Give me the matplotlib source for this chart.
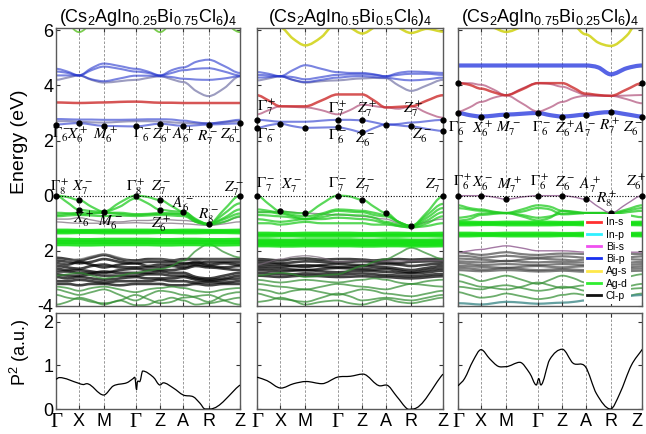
import numpy as np
import matplotlib.pyplot as plt
from matplotlib.path import Path
from matplotlib.patches import PathPatch
from matplotlib.lines import Line2D

plt.rcParams['font.family'] = ['Liberation Sans', 'DejaVu Sans']
plt.rcParams['mathtext.fontset'] = 'stix'

# ── k-path ────────────────────────────────────────────────────────────────────
KPOS = [0.0, 0.125, 0.26, 0.433, 0.566, 0.692, 0.829, 1.0]
KLABELS = ['Γ', 'X', 'M', 'Γ', 'Z', 'A', 'R', 'Z']
TITLES = [r'(Cs$\mathregular{_{2}}$AgIn$\mathregular{_{0.25}}$Bi$\mathregular{_{0.75}}$Cl$\mathregular{_{6}}$)$\mathregular{_{4}}$',
          r'(Cs$\mathregular{_{2}}$AgIn$\mathregular{_{0.5}}$Bi$\mathregular{_{0.5}}$Cl$\mathregular{_{6}}$)$\mathregular{_{4}}$',
          r'(Cs$\mathregular{_{2}}$AgIn$\mathregular{_{0.75}}$Bi$\mathregular{_{0.25}}$Cl$\mathregular{_{6}}$)$\mathregular{_{4}}$']

# band energies (eV) sampled at Γ, ½, X, ½, M, ½, Γ, ½, Z, ½, A, ½, R, ½, Z

# ── x = 0.25 ──
P1_AGS = [[6.60, 6.25, 5.93, 6.25, 6.60, 6.80, 6.80, 6.30, 5.93, 6.30, 6.70, 6.80, 6.70, 6.30, 5.93]]
P1_BIP = [
    [4.60, 4.50, 4.36, 4.62, 4.79, 4.70, 4.60, 4.50, 4.36, 4.55, 4.65, 4.85, 4.93, 4.70, 4.45],
    [4.50, 4.45, 4.36, 4.55, 4.68, 4.60, 4.50, 4.45, 4.36, 4.45, 4.55, 4.60, 4.62, 4.50, 4.36],
    [4.36, 4.36, 4.36, 4.22, 4.15, 4.25, 4.35, 4.35, 4.33, 4.30, 4.24, 4.21, 4.20, 4.25, 4.33],
    [2.78, 2.77, 2.76, 2.76, 2.75, 2.75, 2.76, 2.77, 2.77, 2.76, 2.72, 2.66, 2.62, 2.68, 2.75],
    [2.58, 2.61, 2.63, 2.58, 2.53, 2.52, 2.51, 2.56, 2.61, 2.57, 2.53, 2.55, 2.58, 2.60, 2.62],
]
P1_BIPX = [
    [4.20, 4.28, 4.36, 4.20, 4.10, 4.15, 4.20, 4.27, 4.33, 4.22, 4.12, 3.80, 3.61, 3.90, 4.33],
    [2.70, 2.70, 2.68, 2.66, 2.65, 2.68, 2.70, 2.70, 2.69, 2.66, 2.64, 2.62, 2.62, 2.66, 2.70],
]
P1_INS = [[3.38, 3.37, 3.36, 3.37, 3.38, 3.40, 3.41, 3.39, 3.37, 3.37, 3.36, 3.36, 3.36, 3.36, 3.36]]
P1_AGD = [
    [0.00, -0.05, -0.16, -0.40, -0.58, -0.25, 0.00, -0.05, -0.16, -0.38, -0.58, -0.88, -1.03, -0.50, 0.00],
    [0.00, -0.25, -0.51, -0.56, -0.58, -0.40, -0.10, -0.28, -0.51, -0.56, -0.58, -0.85, -1.03, -0.65, -0.28],
    [-0.70, -0.66, -0.62, -0.62, -0.62, -0.62, -0.67, -0.66, -0.63, -0.64, -0.65, -0.90, -1.03, -0.80, -0.50],
    [-0.62, -0.64, -0.68, -0.66, -0.62, -0.66, -0.70, -0.68, -0.66, -0.66, -0.68, -0.95, -1.03, -0.85, -0.65],
    [-0.75, -0.72, -0.70, -0.72, -0.74, -0.72, -0.74, -0.72, -0.70, -0.72, -0.74, -0.95, -1.05, -0.95, -0.75],
]
P1_AGDX = [
    [-0.85, -0.85, -0.80, -0.88, -0.95, -0.95, -0.90, -0.90, -0.85, -0.88, -0.90, -0.95, -1.05, -0.95, -0.78],
    [-0.95, -0.98, -1.00, -1.00, -1.00, -1.00, -0.98, -1.00, -1.00, -1.00, -1.02, -1.05, -1.08, -1.02, -0.95],
]
P1_FLAT = [
    [-1.27, -1.27, -1.28, -1.28, -1.27, -1.27, -1.27, -1.27, -1.28, -1.28, -1.27, -1.27, -1.28, -1.28, -1.27],
    [-1.33, -1.33, -1.32, -1.32, -1.33, -1.33, -1.33, -1.33, -1.32, -1.32, -1.33, -1.33, -1.32, -1.32, -1.33],
    [-1.60, -1.60, -1.61, -1.61, -1.60, -1.60, -1.60, -1.60, -1.61, -1.61, -1.60, -1.60, -1.61, -1.61, -1.60],
    [-1.68, -1.68, -1.67, -1.67, -1.68, -1.68, -1.68, -1.68, -1.67, -1.67, -1.68, -1.68, -1.67, -1.67, -1.68],
    [-1.76, -1.76, -1.77, -1.77, -1.76, -1.76, -1.76, -1.76, -1.77, -1.77, -1.76, -1.76, -1.77, -1.77, -1.76],
]
P1_CLP = [
    [-2.25, -2.30, -2.35, -2.25, -2.15, -2.30, -2.35, -2.30, -2.30, -2.35, -2.30, -2.30, -2.30, -2.30, -2.30],
    [-2.35, -2.40, -2.45, -2.40, -2.30, -2.40, -2.45, -2.40, -2.40, -2.40, -2.45, -2.45, -2.40, -2.40, -2.40],
    [-2.45, -2.50, -2.40, -2.50, -2.60, -2.50, -2.45, -2.55, -2.50, -2.50, -2.50, -2.40, -2.50, -2.45, -2.50],
    [-2.55, -2.60, -2.65, -2.55, -2.50, -2.60, -2.60, -2.60, -2.60, -2.55, -2.60, -2.50, -2.55, -2.60, -2.55],
    [-2.65, -2.70, -2.70, -2.75, -2.80, -2.70, -2.65, -2.70, -2.70, -2.70, -2.65, -2.55, -2.60, -2.65, -2.70],
    [-2.75, -2.75, -2.80, -2.80, -2.75, -2.80, -2.80, -2.80, -2.75, -2.80, -2.80, -2.95, -3.00, -2.90, -2.80],
    [-2.85, -2.90, -2.90, -2.85, -2.90, -2.90, -2.90, -2.85, -2.85, -2.90, -2.90, -3.00, -3.05, -3.00, -2.90],
    [-2.95, -3.00, -2.95, -3.00, -3.05, -3.00, -2.95, -3.00, -3.00, -3.00, -2.95, -3.05, -3.10, -3.05, -3.00],
    [-3.10, -3.10, -3.05, -3.10, -3.15, -3.10, -3.10, -3.10, -3.05, -3.10, -3.10, -3.15, -3.15, -3.15, -3.10],
    [-3.20, -3.20, -3.25, -3.20, -3.20, -3.25, -3.20, -3.20, -3.20, -3.25, -3.25, -3.20, -3.25, -3.20, -3.20],
]
P1_CLPX = [[-2.50, -2.40, -2.30, -2.20, -2.12, -2.25, -2.40, -2.35, -2.30, -2.32, -2.35, -2.35, -2.30, -2.30, -2.35]]
P1_AGDLOW = [
    [-2.90, -2.85, -2.80, -2.90, -3.00, -2.90, -2.80, -2.72, -2.66, -2.55, -2.36, -2.00, -1.76, -2.05, -2.24],
    [-3.30, -3.35, -3.45, -3.35, -3.30, -3.40, -3.50, -3.40, -3.35, -3.30, -3.35, -3.45, -3.50, -3.40, -3.35],
    [-3.40, -3.50, -3.60, -3.50, -3.40, -3.60, -3.80, -3.60, -3.45, -3.50, -3.60, -3.70, -3.85, -3.60, -3.50],
    [-3.60, -3.70, -3.75, -3.85, -3.90, -3.80, -3.60, -3.75, -3.90, -3.85, -3.70, -3.65, -3.60, -3.80, -3.95],
    [-3.95, -3.85, -3.70, -3.80, -3.95, -3.80, -3.97, -3.95, -3.80, -3.70, -3.80, -3.95, -3.90, -3.80, -3.70],
]

# ── x = 0.5 ──
P2_AGS = [[6.60, 6.40, 6.10, 5.70, 5.45, 5.75, 6.30, 6.10, 5.88, 6.10, 6.40, 6.10, 5.90, 6.05, 5.95]]
P2_BIP = [
    [4.48, 4.42, 4.33, 4.55, 4.73, 4.60, 4.48, 4.45, 4.45, 4.40, 4.33, 4.45, 4.50, 4.48, 4.45],
    [4.38, 4.36, 4.33, 4.30, 4.22, 4.30, 4.38, 4.40, 4.40, 4.38, 4.33, 4.38, 4.42, 4.42, 4.38],
    [4.28, 4.30, 4.33, 4.20, 4.12, 4.20, 4.28, 4.32, 4.33, 4.30, 4.28, 4.22, 4.18, 4.22, 4.28],
    [2.75, 2.72, 2.68, 2.68, 2.68, 2.72, 2.75, 2.75, 2.73, 2.66, 2.58, 2.60, 2.65, 2.70, 2.75],
    [2.46, 2.55, 2.61, 2.52, 2.46, 2.47, 2.48, 2.40, 2.30, 2.45, 2.58, 2.55, 2.51, 2.42, 2.35],
]
P2_BIPX = [[4.18, 4.25, 4.33, 4.20, 4.10, 4.15, 4.18, 4.22, 4.25, 4.27, 4.26, 4.00, 3.80, 4.00, 4.20]]
P2_INS = [[3.64, 3.45, 3.24, 3.24, 3.24, 3.45, 3.67, 3.67, 3.67, 3.45, 3.20, 3.22, 3.24, 3.45, 3.64]]
P2_INSX = [[2.95, 3.10, 3.24, 3.22, 3.20, 3.10, 2.95, 3.10, 3.30, 3.25, 3.20, 3.15, 3.24, 3.00, 2.83]]
P2_AGD = [
    [0.00, -0.30, -0.57, -0.62, -0.64, -0.30, 0.00, -0.03, -0.15, -0.40, -0.62, -0.95, -1.10, -0.60, -0.03],
    [-0.60, -0.60, -0.65, -0.75, -0.85, -0.70, -0.55, -0.58, -0.60, -0.70, -0.75, -0.95, -1.10, -0.80, -0.45],
    [-0.70, -0.72, -0.75, -0.80, -0.85, -0.78, -0.68, -0.70, -0.72, -0.80, -0.95, -1.05, -1.10, -0.90, -0.60],
    [-0.85, -0.90, -0.95, -0.90, -0.85, -0.85, -0.80, -0.82, -0.85, -0.90, -1.00, -1.10, -1.15, -1.00, -0.75],
    [-1.00, -1.00, -1.05, -1.00, -0.95, -1.00, -1.00, -1.00, -1.00, -1.05, -1.05, -1.10, -1.15, -1.10, -1.00],
    [-0.50, -0.55, -0.62, -0.70, -0.75, -0.65, -0.50, -0.52, -0.55, -0.62, -0.70, -0.95, -1.10, -0.70, -0.30],
]
P2_AGDX = [[-0.60, -0.59, -0.57, -0.60, -0.64, -0.66, -0.70, -0.72, -0.75, -0.80, -0.85, -1.00, -1.10, -0.95, -0.85]]
P2_FLAT = [
    [-1.38, -1.38, -1.39, -1.39, -1.38, -1.38, -1.38, -1.38, -1.39, -1.39, -1.38, -1.38, -1.39, -1.39, -1.38],
    [-1.45, -1.45, -1.44, -1.44, -1.45, -1.45, -1.45, -1.45, -1.44, -1.44, -1.45, -1.45, -1.44, -1.44, -1.45],
    [-1.62, -1.62, -1.63, -1.63, -1.62, -1.62, -1.62, -1.62, -1.63, -1.63, -1.62, -1.62, -1.63, -1.63, -1.62],
    [-1.68, -1.68, -1.67, -1.67, -1.68, -1.68, -1.68, -1.68, -1.67, -1.67, -1.68, -1.68, -1.67, -1.67, -1.68],
    [-1.74, -1.74, -1.75, -1.75, -1.74, -1.74, -1.74, -1.74, -1.75, -1.75, -1.74, -1.74, -1.75, -1.75, -1.74],
    [-1.80, -1.80, -1.81, -1.81, -1.80, -1.80, -1.80, -1.80, -1.81, -1.81, -1.80, -1.80, -1.81, -1.81, -1.80],
]
P2_CLP = [
    [-2.30, -2.32, -2.35, -2.30, -2.28, -2.32, -2.30, -2.30, -2.32, -2.35, -2.32, -2.30, -2.32, -2.30, -2.30],
    [-2.38, -2.40, -2.45, -2.42, -2.38, -2.40, -2.42, -2.40, -2.38, -2.40, -2.42, -2.45, -2.40, -2.38, -2.38],
    [-2.46, -2.48, -2.50, -2.55, -2.58, -2.52, -2.48, -2.50, -2.52, -2.50, -2.48, -2.50, -2.55, -2.50, -2.46],
    [-2.55, -2.56, -2.58, -2.55, -2.52, -2.56, -2.60, -2.58, -2.56, -2.58, -2.60, -2.65, -2.70, -2.62, -2.55],
    [-2.62, -2.64, -2.66, -2.68, -2.70, -2.66, -2.62, -2.64, -2.66, -2.68, -2.66, -2.72, -2.78, -2.70, -2.64],
    [-2.70, -2.72, -2.75, -2.72, -2.70, -2.74, -2.78, -2.75, -2.72, -2.74, -2.76, -2.80, -2.82, -2.78, -2.72],
    [-2.80, -2.82, -2.85, -2.85, -2.82, -2.84, -2.86, -2.84, -2.82, -2.85, -2.88, -2.90, -2.92, -2.88, -2.84],
    [-2.90, -2.92, -2.95, -2.92, -2.90, -2.92, -2.95, -2.94, -2.92, -2.94, -2.95, -2.98, -3.00, -2.96, -2.92],
]
P2_CLPX = [[-2.50, -2.40, -2.30, -2.22, -2.18, -2.25, -2.40, -2.38, -2.35, -2.35, -2.38, -2.38, -2.36, -2.35, -2.35]]
P2_AGDLOW = [
    [-2.90, -2.85, -2.80, -2.85, -2.95, -2.90, -2.85, -2.70, -2.55, -2.40, -2.30, -2.10, -1.89, -2.10, -2.30],
    [-3.05, -3.10, -3.15, -3.10, -3.05, -3.10, -3.15, -3.10, -3.05, -3.00, -3.05, -3.15, -3.20, -3.10, -3.05],
    [-3.20, -3.25, -3.30, -3.35, -3.40, -3.30, -3.20, -3.25, -3.30, -3.35, -3.40, -3.30, -3.20, -3.25, -3.30],
    [-3.40, -3.45, -3.55, -3.45, -3.40, -3.50, -3.60, -3.50, -3.40, -3.45, -3.55, -3.60, -3.65, -3.55, -3.45],
    [-3.55, -3.65, -3.75, -3.80, -3.85, -3.70, -3.55, -3.65, -3.80, -3.75, -3.70, -3.75, -3.80, -3.70, -3.60],
    [-3.85, -3.80, -3.70, -3.80, -3.95, -3.85, -3.80, -3.90, -3.95, -3.85, -3.75, -3.85, -3.90, -3.80, -3.70],
]

# ── x = 0.75 ──
P3_AGS = [[6.60, 6.40, 6.30, 6.10, 5.94, 6.15, 6.60, 6.50, 6.40, 6.20, 5.85, 5.55, 5.43, 5.80, 6.50]]
P3_BIP = [
    [4.72, 4.72, 4.72, 4.72, 4.72, 4.72, 4.72, 4.72, 4.72, 4.72, 4.72, 4.65, 4.40, 4.62, 4.72],
    [3.00, 2.92, 2.87, 2.90, 2.94, 2.97, 3.00, 2.92, 2.87, 2.90, 2.94, 3.00, 3.03, 2.95, 2.87],
]
P3_INS = [[4.08, 4.02, 3.88, 3.75, 3.64, 3.85, 4.08, 4.08, 4.08, 3.90, 3.70, 3.65, 3.62, 3.85, 4.08]]
P3_INSX = [
    [4.08, 4.08, 4.02, 3.85, 3.64, 3.35, 3.05, 3.20, 3.40, 3.55, 3.62, 3.62, 3.62, 3.50, 3.35],
    [3.05, 3.20, 3.40, 3.55, 3.64, 3.88, 4.08, 4.05, 3.95, 3.80, 3.66, 3.64, 3.62, 3.63, 3.65],
]
P3_BIS = [[0.00, 0.00, 0.00, -0.05, -0.13, -0.05, 0.00, 0.00, 0.00, -0.05, -0.13, -0.40, -0.63, -0.30, 0.00]]
P3_AGD = [
    [-0.35, -0.45, -0.50, -0.58, -0.63, -0.75, -0.90, -0.80, -0.55, -0.58, -0.63, -0.63, -0.63, -0.50, -0.35],
    [-0.90, -0.85, -0.70, -0.66, -0.63, -0.50, -0.35, -0.40, -0.55, -0.60, -0.63, -0.63, -0.63, -0.55, -0.45],
    [-0.45, -0.50, -0.55, -0.60, -0.63, -0.70, -0.80, -0.75, -0.65, -0.63, -0.63, -0.63, -0.63, -0.60, -0.55],
    [-0.80, -0.75, -0.65, -0.63, -0.63, -0.58, -0.45, -0.50, -0.68, -0.66, -0.63, -0.63, -0.63, -0.70, -0.78],
]
P3_FLAT = [
    [-0.98, -0.98, -0.99, -0.99, -0.98, -0.98, -0.98, -0.98, -0.99, -0.99, -0.98, -0.98, -0.99, -0.99, -0.98],
    [-1.04, -1.04, -1.03, -1.03, -1.04, -1.04, -1.04, -1.04, -1.03, -1.03, -1.04, -1.04, -1.03, -1.03, -1.04],
    [-1.38, -1.38, -1.39, -1.39, -1.38, -1.38, -1.38, -1.38, -1.39, -1.39, -1.38, -1.38, -1.39, -1.39, -1.38],
    [-1.44, -1.44, -1.43, -1.43, -1.44, -1.44, -1.44, -1.44, -1.43, -1.43, -1.44, -1.44, -1.43, -1.43, -1.44],
]
P3_BISLOW = [[-2.05, -2.00, -1.95, -1.88, -1.82, -1.90, -2.00, -2.00, -2.00, -2.02, -2.05, -2.05, -2.05, -2.05, -2.05]]
P3_CLP = [
    [-2.05, -2.10, -2.15, -2.10, -2.05, -2.12, -2.15, -2.12, -2.10, -2.10, -2.12, -2.10, -2.08, -2.10, -2.12],
    [-2.18, -2.20, -2.25, -2.22, -2.18, -2.22, -2.25, -2.22, -2.20, -2.22, -2.25, -2.28, -2.30, -2.25, -2.20],
    [-2.28, -2.30, -2.32, -2.35, -2.38, -2.32, -2.28, -2.30, -2.32, -2.35, -2.32, -2.30, -2.28, -2.30, -2.32],
    [-2.38, -2.40, -2.42, -2.40, -2.36, -2.40, -2.42, -2.40, -2.40, -2.42, -2.42, -2.45, -2.48, -2.44, -2.40],
    [-2.45, -2.48, -2.52, -2.50, -2.48, -2.50, -2.52, -2.50, -2.48, -2.50, -2.52, -2.55, -2.55, -2.52, -2.48],
    [-2.55, -2.56, -2.58, -2.60, -2.62, -2.58, -2.55, -2.58, -2.60, -2.58, -2.56, -2.60, -2.62, -2.60, -2.56],
    [-2.62, -2.64, -2.68, -2.66, -2.62, -2.66, -2.70, -2.68, -2.66, -2.68, -2.70, -2.70, -2.68, -2.66, -2.64],
    [-2.70, -2.72, -2.74, -2.72, -2.70, -2.72, -2.75, -2.74, -2.72, -2.74, -2.76, -2.78, -2.76, -2.74, -2.72],
]
P3_AGDLOW = [
    [-2.85, -2.95, -3.10, -3.00, -2.90, -3.05, -3.20, -3.05, -2.90, -3.00, -3.15, -3.10, -3.00, -2.95, -2.85],
    [-3.10, -3.20, -3.30, -3.35, -3.40, -3.30, -3.15, -3.25, -3.35, -3.30, -3.25, -3.35, -3.40, -3.30, -3.20],
    [-3.30, -3.35, -3.40, -3.30, -3.25, -3.35, -3.45, -3.40, -3.30, -3.35, -3.45, -3.50, -3.45, -3.40, -3.35],
    [-3.50, -3.60, -3.70, -3.65, -3.55, -3.65, -3.75, -3.70, -3.60, -3.55, -3.60, -3.70, -3.75, -3.65, -3.55],
]
P3_TEAL = [[-3.90, -3.92, -3.95, -3.90, -3.85, -3.88, -3.92, -3.90, -3.88, -3.85, -3.80, -3.75, -3.70, -3.65, -3.60]]

# ── optical transition strength P² (k, value) ─────────────────────────────────
P1_PK = [0.0, 0.018, 0.123, 0.148, 0.167, 0.259, 0.312, 0.384, 0.42, 0.428, 0.438, 0.442, 0.457,
         0.471, 0.529, 0.565, 0.583, 0.638, 0.692, 0.746, 0.783, 0.81, 0.837, 1.0]
P1_P2 = [0.68, 0.72, 0.59, 0.56, 0.58, 0.32, 0.53, 0.60, 0.70, 0.73, 0.44, 0.62, 0.64,
         0.87, 0.73, 0.55, 0.60, 0.48, 0.32, 0.28, 0.13, 0.0, 0.0, 0.55]
P2_PK = [0.0, 0.054, 0.129, 0.197, 0.265, 0.349, 0.433, 0.502, 0.57, 0.663, 0.694, 0.753, 0.806, 0.837, 1.0]
P2_P2 = [0.73, 0.65, 0.48, 0.58, 0.63, 0.58, 0.73, 0.75, 0.80, 0.53, 0.55, 0.28, 0.01, 0.0, 0.80]
P3_PK = [0.0, 0.036, 0.081, 0.125, 0.172, 0.217, 0.259, 0.335, 0.389, 0.425, 0.438, 0.449,
         0.497, 0.566, 0.624, 0.691, 0.751, 0.827, 0.877, 0.94, 1.0]
P3_P2 = [0.53, 0.70, 1.10, 1.36, 1.15, 0.98, 0.97, 1.07, 0.82, 0.55, 0.70, 0.55,
         1.13, 1.37, 1.05, 0.97, 0.35, 0.0, 0.35, 1.00, 1.37]

# ── line styles per orbital character ─────────────────────────────────────────
STYLE = {
    'ags_g':  dict(color='#6cc83c', lw=1.3, alpha=0.9),
    'ags':    dict(color='#d2d41c', lw=1.8, alpha=0.9),
    'bip':    dict(color='#2233cc', lw=1.5, alpha=0.6),
    'bipx':   dict(color='#5a5a96', lw=1.5, alpha=0.6),
    'ins':    dict(color='#cc2a2a', lw=1.8, alpha=0.8),
    'insx':   dict(color='#b0507a', lw=1.4, alpha=0.7),
    'agd':    dict(color='#22cc22', lw=1.6, alpha=0.75),
    'agdx':   dict(color='#7a6a7a', lw=1.0, alpha=0.7),
    'flat':   dict(color='#15e015', lw=3.0, alpha=0.9),
    'agdlow': dict(color='#2e8b2e', lw=1.3, alpha=0.7),
    'clp':    dict(color='#050505', lw=1.9, alpha=0.75),
    'clpg':   dict(color='#3a3a3a', lw=1.6, alpha=0.65),
    'clpx':   dict(color='#666666', lw=1.2, alpha=0.65),
    'bis':    dict(color='#9a6a9a', lw=1.0, alpha=0.9),
    'teal':   dict(color='#3f8a8a', lw=1.6, alpha=0.8),
    'bipth':  dict(color='#1f30dd', lw=3.0, alpha=0.75),
}

PANELS = [
    [(P1_CLP, 'clp'), (P1_CLPX, 'clpx'), (P1_AGDLOW, 'agdlow'), (P1_AGDX, 'agdx'), (P1_AGD, 'agd'),
     (P1_FLAT, 'flat'), (P1_BIPX, 'bipx'), (P1_BIP, 'bip'), (P1_INS, 'ins'), (P1_AGS, 'ags_g')],
    [(P2_CLP, 'clp'), (P2_CLPX, 'agdx'), (P2_AGDLOW, 'agdlow'), (P2_AGDX, 'agdx'), (P2_AGD, 'agd'),
     (P2_FLAT, 'flat'), (P2_BIPX, 'bipx'), (P2_BIP, 'bip'), (P2_INSX, 'insx'), (P2_INS, 'ins'),
     (P2_AGS, 'ags')],
    [(P3_CLP, 'clpg'), (P3_BISLOW, 'bis'), (P3_AGDLOW, 'agdlow'), (P3_TEAL, 'teal'), (P3_AGD, 'agd'),
     (P3_FLAT, 'flat'), (P3_BIS, 'bis'), (P3_BIP, 'bipth'), (P3_INSX, 'insx'), (P3_INS, 'ins'),
     (P3_AGS, 'ags')],
]

# black dots: (band, high-symmetry indices)
DOTS = [
    [(P1_AGD[0], range(8)), (P1_AGD[1], [1, 4]), (P1_BIP[4], range(8))],
    [(P2_AGD[0], range(8)), (P2_BIP[4], range(8)), (P2_BIP[3], [0, 3, 4, 7])],
    [(P3_BIS[0], range(8)), (P3_BIP[1], range(8)), (P3_INS[0], [0, 7])],
]

# irrep labels: (k, E, text)
IRREPS = [
    [(0.031, 2.2, r'$\Gamma_6^-$'), (0.12, 2.2, r'$X_6^+$'), (0.27, 2.2, r'$M_6^+$'),
     (0.47, 2.2, r'$\Gamma_6^-$'), (0.58, 2.2, r'$Z_6^+$'), (0.69, 2.2, r'$A_6^+$'),
     (0.823, 2.1, r'$R_7^-$'), (0.946, 2.2, r'$Z_6^+$'),
     (0.022, 0.3, r'$\Gamma_8^+$'), (0.144, 0.27, r'$X_7^-$'), (0.435, 0.3, r'$\Gamma_8^+$'),
     (0.57, 0.27, r'$Z_7^-$'), (0.69, -0.3, r'$A_6^-$'), (0.83, -0.72, r'$R_8^-$'),
     (0.97, 0.25, r'$Z_7^-$'), (0.154, -0.85, r'$X_6^+$'), (0.293, -0.97, r'$M_6^-$'),
     (0.571, -1.03, r'$Z_6^+$')],
    [(0.054, 3.21, r'$\Gamma_7^+$'), (0.054, 2.18, r'$\Gamma_6^-$'), (0.433, 3.15, r'$\Gamma_7^+$'),
     (0.433, 2.12, r'$\Gamma_6^-$'), (0.591, 3.15, r'$Z_7^+$'), (0.582, 2.02, r'$Z_6^-$'),
     (0.839, 3.15, r'$Z_7^+$'), (0.887, 2.18, r'$Z_6^-$'),
     (0.045, 0.39, r'$\Gamma_7^-$'), (0.188, 0.36, r'$X_7^-$'), (0.433, 0.39, r'$\Gamma_7^-$'),
     (0.582, 0.36, r'$Z_7^-$'), (0.959, 0.36, r'$Z_7^-$')],
    [(0.0, 2.42, r'$\Gamma_6^-$'), (0.136, 2.42, r'$X_6^+$'), (0.271, 2.42, r'$M_7^-$'),
     (0.452, 2.42, r'$\Gamma_6^-$'), (0.579, 2.42, r'$Z_6^+$'), (0.687, 2.42, r'$A_7^-$'),
     (0.823, 2.5, r'$R_7^+$'), (0.949, 2.42, r'$Z_6^-$'),
     (0.024, 0.48, r'$\Gamma_6^+$'), (0.136, 0.42, r'$X_6^-$'), (0.28, 0.36, r'$M_7^+$'),
     (0.443, 0.48, r'$\Gamma_6^+$'), (0.579, 0.42, r'$Z_6^-$'), (0.714, 0.36, r'$A_7^+$'),
     (0.805, -0.12, r'$R_8^+$'), (0.967, 0.48, r'$Z_6^+$')],
]

P2_CURVES = [(P1_PK, P1_P2), (P2_PK, P2_P2), (P3_PK, P3_P2)]

LEGEND = [('In-s', '#ff3030'), ('In-p', '#30f0ff'), ('Bi-s', '#f050f0'), ('Bi-p', '#1830f0'),
          ('Ag-s', '#ffe84a'), ('Ag-d', '#30ee30'), ('Cl-p', '#111111')]

KS = np.sort(np.concatenate([KPOS, (np.array(KPOS[:-1]) + np.array(KPOS[1:])) / 2]))


def smooth_path(xs, ys, flat_every=None):
    """Cubic Bézier through the samples; flat tangents at extrema (and HS points)."""
    xs = np.asarray(xs, float)
    ys = np.asarray(ys, float)
    n = len(xs)
    m = np.zeros(n)
    for i in range(n):
        if flat_every and i % flat_every == 0:
            continue
        i0, i1 = max(i - 1, 0), min(i + 1, n - 1)
        if 0 < i < n - 1 and (ys[i] - ys[i0]) * (ys[i1] - ys[i]) <= 0:
            continue
        m[i] = (ys[i1] - ys[i0]) / (xs[i1] - xs[i0])
    verts = [(xs[0], ys[0])]
    codes = [Path.MOVETO]
    for i in range(n - 1):
        dx = xs[i + 1] - xs[i]
        verts += [(xs[i] + dx / 3, ys[i] + m[i] * dx / 3),
                  (xs[i + 1] - dx / 3, ys[i + 1] - m[i + 1] * dx / 3),
                  (xs[i + 1], ys[i + 1])]
        codes += [Path.CURVE4] * 3
    return Path(verts, codes)


def style_frame(ax):
    for sp in ax.spines.values():
        sp.set_color('#5a5a5a')
        sp.set_linewidth(1.0)
    ax.tick_params(direction='in', length=3, width=0.8, color='#333333',
                   right=True, top=True, labelsize=13, pad=2)
    for k in KPOS[1:-1]:
        ax.axvline(k, color='#888888', lw=0.6, ls=(0, (3, 2)), zorder=0.5)


fig = plt.figure(figsize=(6.46, 4.34), dpi=100)
xs_ax = [(0.0867, 0.2848), (0.3978, 0.2879), (0.7090, 0.2854)]

for p, (x0, w) in enumerate(xs_ax):
    ax = fig.add_axes([x0, 0.295, w, 0.6405])
    style_frame(ax)
    ax.set_xlim(0, 1)
    ax.set_ylim(-4, 6.08)
    ax.set_xticks(KPOS)
    ax.set_xticklabels([])
    ax.set_yticks([-4, -2, 0, 2, 4, 6])
    if p == 0:
        ax.set_yticklabels(['-4', '2', '0', '2', '4', '6'])
    else:
        ax.set_yticklabels([])
    ax.axhline(0, color='black', lw=0.8, ls=(0, (1, 1.5)), zorder=6)

    z = 1
    for group, key in PANELS[p]:
        st = STYLE[key]
        for band in group:
            ax.add_patch(PathPatch(smooth_path(KS, band, flat_every=2), fill=False,
                                   edgecolor=st['color'], lw=st['lw'], alpha=st['alpha'],
                                   capstyle='round', zorder=z))
        z += 0.1

    for band, idx in DOTS[p]:
        idx = list(idx)
        ax.plot([KPOS[i] for i in idx], [band[2 * i] for i in idx], 'o', color='black',
                ms=3.5, zorder=8, clip_on=False)

    for k, e, txt in IRREPS[p]:
        ax.text(k, e, txt, ha='center', va='center', fontsize=11, zorder=9)

    ax.set_title(TITLES[p], fontsize=13, pad=3)

    if p == 2:
        handles = [Line2D([], [], color=c, lw=2) for _, c in LEGEND]
        leg = ax.legend(handles, [n for n, _ in LEGEND], loc='lower left',
                        bbox_to_anchor=(0.655, -0.012), fontsize=7.5, handlelength=1.3,
                        handletextpad=0.5, labelspacing=0.22, borderpad=0.3,
                        frameon=True, fancybox=False, framealpha=1)
        leg.get_frame().set_edgecolor('none')
        leg.set_zorder(10)

    # P² panel
    bx = fig.add_axes([x0, 0.0576, w, 0.2212])
    style_frame(bx)
    bx.set_xlim(0, 1)
    bx.set_ylim(0, 2.2)
    bx.set_yticks([0, 1, 2])
    if p == 0:
        bx.set_yticklabels(['0', '1', '2'])
    else:
        bx.set_yticklabels([])
    bx.set_xticks(KPOS)
    bx.set_xticklabels(KLABELS)
    bx.tick_params(axis='x', pad=3)
    for lab in bx.get_xticklabels():
        if lab.get_text() == 'Γ':
            lab.set_fontfamily('Liberation Serif')
            lab.set_fontsize(15)
    if p == 2:
        bx.get_xticklabels()[-1].set_horizontalalignment('right')
    kk, vv = P2_CURVES[p]
    bx.add_patch(PathPatch(smooth_path(kk, vv), fill=False, edgecolor='black', lw=0.9, zorder=3))

fig.text(20 / 646, 1 - 142 / 434, 'Energy (eV)', rotation=90, ha='center', va='center', fontsize=14)
fig.text(20 / 646, 1 - 352 / 434, r'P$\mathregular{^{2}}$ (a.u.)', rotation=90, ha='center',
         va='center', fontsize=13)

fig.savefig('out.png', dpi=100)
